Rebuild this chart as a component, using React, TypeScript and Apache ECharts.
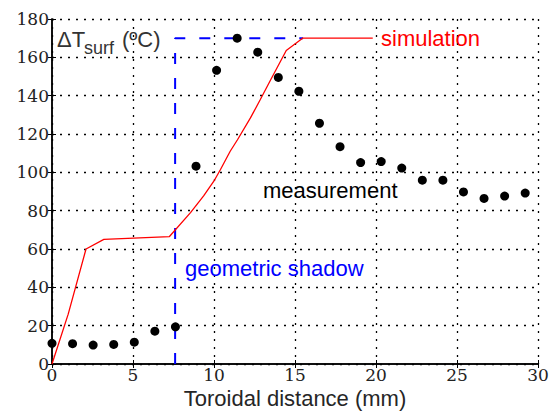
import React, { useEffect, useRef } from "react";
import * as echarts from "echarts";

// Measurement points (toroidal distance mm, ΔT °C)
const measX = [0, 1.27, 2.54, 3.81, 5.08, 6.35, 7.62, 8.89, 10.16, 11.43, 12.7, 13.97, 15.24, 16.51, 17.78, 19.05, 20.32, 21.59, 22.86, 24.13, 25.4, 26.67, 27.94, 29.21];
const measY = [10.8, 10.6, 9.9, 10.2, 11.4, 17.1, 19.4, 103.2, 153.2, 170, 162.7, 149.5, 142.3, 125.6, 113.4, 105.1, 105.6, 102.2, 95.9, 95.9, 89.8, 86.4, 87.6, 89.2];

// Simulation curve
const simX = [0, 1.0, 2.1, 3.2, 7.25, 8.55, 9.36, 10.0, 10.4, 11.0, 11.45, 12.25, 12.86, 13.5, 14.46, 15.47, 19.8];
const simY = [0, 26, 60, 65, 66.5, 79, 87.7, 95.5, 101.5, 111, 117, 128.4, 138, 148.3, 163.6, 170, 170];

// Geometric shadow outline
const shadowX = [7.6, 7.6, 15.5];
const shadowY = [0, 170, 170];

// Tick labels
const xTicks = [0, 5, 10, 15, 20, 25, 30];
const yTicks = [0, 20, 40, 60, 80, 100, 120, 140, 160, 180];

const xMin = 0, xMax = 30, xStep = 5;
const yMin = 0, yMax = 180, yStep = 20;

const SANS = "Liberation Sans";
const SERIF_FONT = "17px 'DejaVu Serif', 'Liberation Serif', serif";

export default function App() {
  const ref = useRef<HTMLDivElement>(null);
  useEffect(() => {
    if (!ref.current) return;
    const chart = echarts.init(ref.current, undefined, { renderer: "svg" });
    const zip = (xs: number[], ys: number[]) => xs.map((x, i) => [x, ys[i]]);
    const axisLine = { show: true, lineStyle: { color: "#000", width: 1.5 } };
    const tick = { show: true, inside: true, length: 4, lineStyle: { color: "#000", width: 1 } };
    const split = { show: true, lineStyle: { color: "#000", type: [2, 6], width: 1.3 } };
    chart.setOption({
      animation: false,
      grid: { left: 52, right: 21, top: 19, bottom: 48 },
      xAxis: [
        {
          type: "value", position: "bottom", min: xMin, max: xMax, interval: xStep,
          axisLine, axisTick: tick, splitLine: split, axisLabel: { show: false },
          name: "Toroidal distance (mm)", nameLocation: "middle", nameGap: 23,
          nameTextStyle: { color: "#262626", fontFamily: SANS, fontSize: 22 },
        },
        {
          type: "value", position: "top", min: xMin, max: xMax, interval: xStep,
          axisLine, axisTick: tick, splitLine: { show: false }, axisLabel: { show: false },
        },
      ],
      yAxis: [
        {
          type: "value", position: "left", min: yMin, max: yMax, interval: yStep,
          axisLine, axisTick: tick, splitLine: split, axisLabel: { show: false },
        },
        {
          type: "value", position: "right", min: yMin, max: yMax, interval: yStep,
          axisLine, axisTick: tick, splitLine: { show: false }, axisLabel: { show: false },
        },
      ],
      series: [
        {
          type: "line", data: zip(shadowX, shadowY), symbol: "none", z: 2,
          lineStyle: { color: "#0000ff", width: 2, type: [11, 14] },
        },
        {
          type: "line", data: zip(simX, simY), symbol: "none", z: 3,
          lineStyle: { color: "#ff0000", width: 1.3 },
        },
        {
          type: "scatter", data: zip(measX, measY), symbol: "circle", symbolSize: 9, z: 4,
          clip: false, itemStyle: { color: "#000", opacity: 1 },
        },
      ],
    });

    const tickTexts: any[] = [];
    xTicks.forEach((v) => {
      const p = chart.convertToPixel({ gridIndex: 0 }, [v, yMin]) as number[];
      tickTexts.push({
        type: "text", x: p[0], y: p[1] + 2,
        style: { text: String(v), font: SERIF_FONT, fill: "#222", align: "center", verticalAlign: "top" },
      });
    });
    yTicks.forEach((v) => {
      const p = chart.convertToPixel({ gridIndex: 0 }, [xMin, v]) as number[];
      tickTexts.push({
        type: "text", x: p[0] - 3, y: p[1],
        style: { text: String(v), font: SERIF_FONT, fill: "#222", align: "right", verticalAlign: "middle" },
      });
    });

    chart.setOption({
      graphic: [
        { type: "text", left: 57, top: 28, style: { text: "ΔT", fontFamily: SANS, fontSize: 22, fill: "#333" } },
        { type: "text", left: 84, top: 39, style: { text: "surf", fontFamily: SANS, fontSize: 18, fill: "#333" } },
        { type: "text", left: 122, top: 28, style: { text: "(ºC)", fontFamily: SANS, fontSize: 22, fill: "#333" } },
        { type: "text", left: 381, top: 27, style: { text: "simulation", fontFamily: SANS, fontSize: 22, fill: "#ff0000" } },
        { type: "text", left: 263, top: 179, style: { text: "measurement", fontFamily: SANS, fontSize: 22, fill: "#000" } },
        { type: "text", left: 185, top: 257, style: { text: "geometric shadow", fontFamily: SANS, fontSize: 22, fill: "#0000ff" } },
        ...tickTexts,
      ],
    });
    return () => chart.dispose();
  }, []);
  return <div ref={ref} style={{ width: 559, height: 414, position: "absolute", left: 0, top: 0 }} />;
}
